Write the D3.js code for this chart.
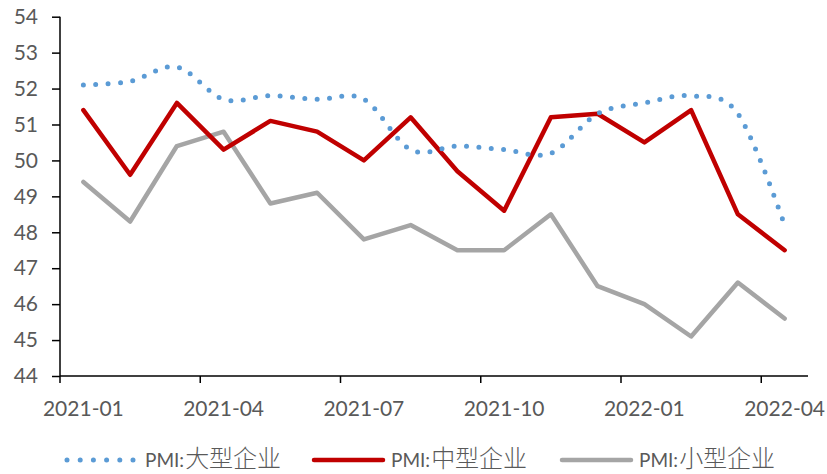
<!DOCTYPE html>
<html>
<head>
<meta charset="utf-8">
<script src="https://cdn.jsdelivr.net/npm/d3@7"></script>
<style>
	body { margin: 0; background: #fff; }
	text { font-family: Lato, "Noto Sans CJK SC", sans-serif; fill: #595959; }
	.cjk { font-family: "Noto Sans CJK SC", sans-serif; font-weight: 300; }
</style>
</head>
<body>
<div id="chart"></div>
<script>
var months = ["2021-01", "2021-02", "2021-03", "2021-04", "2021-05", "2021-06", "2021-07", "2021-08",
	"2021-09", "2021-10", "2021-11", "2021-12", "2022-01", "2022-02", "2022-03", "2022-04"]
var large = [52.1, 52.2, 52.6, 51.7, 51.8, 51.7, 51.7, 50.3, 50.4, 50.3, 50.2, 51.3, 51.6, 51.8, 51.3, 48.2]
var medium = [51.4, 49.6, 51.6, 50.3, 51.1, 50.8, 50.0, 51.2, 49.7, 48.6, 51.2, 51.3, 50.5, 51.4, 48.5, 47.5]
var small = [49.4, 48.3, 50.4, 50.8, 48.8, 49.1, 47.8, 48.2, 47.5, 47.5, 48.5, 46.5, 46.0, 45.1, 46.6, 45.6]
var yTicks = [44, 45, 46, 47, 48, 49, 50, 51, 52, 53, 54]
var names = ["PMI:大型企业", "PMI:中型企业", "PMI:小型企业"]

var width = 827
var height = 474
var pLeft = 60, pRight = 808, pTop = 16.7, pBottom = 376

var svg = d3.select("#chart").append("svg")
	.attr("width", width)
	.attr("height", height)

var x = d3.scaleBand().domain(months).range([pLeft, pRight]).padding(0)
var y = d3.scaleLinear().domain([44, 54]).range([pBottom, pTop])

// y axis
var yAxis = svg.append("g")
	.attr("transform", "translate(" + pLeft + ",0)")
	.call(d3.axisLeft(y).tickValues(yTicks).tickSize(8).tickPadding(14).tickFormat(d3.format("d")))
yAxis.select(".domain").attr("stroke", "#000").attr("stroke-width", 1.5).attr("d", "M0," + pTop + "V" + pBottom)
yAxis.selectAll(".tick line").attr("stroke", "#000").attr("stroke-width", 1.5)
yAxis.selectAll("text").style("font-size", "21px").attr("fill", "#595959")

// x axis: ticks at boundaries of each quarter, labels under the month
var qMonths = months.filter(function (d, i) { return i % 3 == 0 })
var xAxis = svg.append("g").attr("transform", "translate(0," + pBottom + ")")
xAxis.append("line")
	.attr("x1", pLeft).attr("x2", pRight)
	.attr("stroke", "#000").attr("stroke-width", 1.5)
xAxis.selectAll(".tk").data(qMonths).enter().append("line")
	.attr("x1", function (d) { return x(d) })
	.attr("x2", function (d) { return x(d) })
	.attr("y1", 0).attr("y2", 7)
	.attr("stroke", "#000").attr("stroke-width", 1.5)
xAxis.selectAll(".lb").data(qMonths).enter().append("text")
	.attr("x", function (d) { return x(d) + x.bandwidth() / 2 })
	.attr("y", 40)
	.attr("text-anchor", "middle")
	.style("font-size", "21px")
	.text(function (d) { return d })

var cx = function (d, i) { return x(months[i]) + x.bandwidth() / 2 }

var series = [
	{ name: names[0], values: large, color: "#5B9BD5", width: 5, dash: "0 12.4", curve: d3.curveCardinal.tension(0) },
	{ name: names[1], values: medium, color: "#C00000", width: 4.5, dash: null, curve: d3.curveLinear },
	{ name: names[2], values: small, color: "#A5A5A5", width: 4.5, dash: null, curve: d3.curveLinear }
]

// draw small first so the others sit on top
var order = [2, 1, 0]
order.forEach(function (k) {
	var s = series[k]
	var line = d3.line()
		.x(cx)
		.y(function (d) { return y(d) })
		.curve(s.curve)
	svg.append("path")
		.datum(s.values)
		.attr("fill", "none")
		.attr("stroke", s.color)
		.attr("stroke-width", s.width)
		.attr("stroke-linecap", "round")
		.attr("stroke-linejoin", "round")
		.attr("stroke-dasharray", s.dash)
		.attr("d", line)
})

// legend
var legX = [67, 314, 562]
var legend = svg.selectAll(".legend").data(series).enter().append("g")
	.attr("transform", function (d, i) { return "translate(" + legX[i] + ",460)" })
legend.append("line")
	.attr("x1", 0).attr("x2", function (d, i) { return i == 0 ? 66 : 69 })
	.attr("stroke", function (d) { return d.color })
	.attr("stroke-width", function (d) { return d.width })
	.attr("stroke-linecap", "round")
	.attr("stroke-dasharray", function (d) { return d.dash ? "0 13.2" : null })
var lt = legend.append("text")
	.attr("x", function (d, i) { return i == 0 ? 78 : 77 })
	.attr("y", 7)
lt.append("tspan")
	.style("font-size", "19px")
	.text(function (d) { return d.name.slice(0, 4) })
lt.append("tspan")
	.attr("class", "cjk")
	.attr("dx", 1)
	.style("font-size", "24px")
	.text(function (d) { return d.name.slice(4) })
</script>
</body>
</html>
